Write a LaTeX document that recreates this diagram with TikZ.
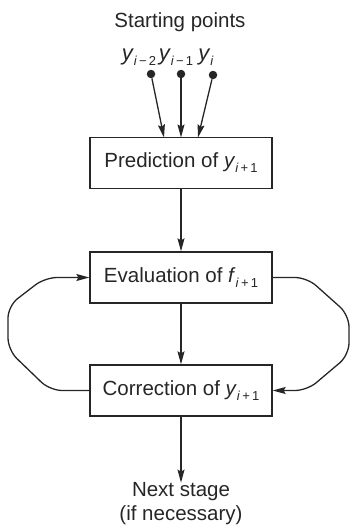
\documentclass[tikz,border=0pt]{standalone}
\usepackage{fontspec}
\setmainfont{Liberation Sans}
\usetikzlibrary{arrows.meta}
\newcommand\sbs[1]{\raisebox{-0.45ex}{\fontsize{13}{13}\selectfont #1}}
\begin{document}
\begin{tikzpicture}[x=1pt,y=-1pt,
  every node/.style={font=\fontsize{20.5}{24}\selectfont, text=black!85},
  box/.style={draw=black!85, line width=1.3pt, minimum width=182pt, minimum height=51pt, inner sep=0pt},
  arr/.style={draw=black!85, line width=1.3pt, -{Stealth[length=13pt,width=7pt,inset=2pt]}},
  dot/.style={circle, fill=black!85, inner sep=0pt, minimum size=8.5pt}]
\useasboundingbox (0,0) rectangle (351,527);
\node (start) at (180,22) {Starting points};
\node (l1) at (139,57) {{\fontsize{22}{24}\selectfont\textit{y}}\sbs{\textit{i}\,−\,2}};
\node (l2) at (176,57) {{\fontsize{22}{24}\selectfont\textit{y}}\sbs{\textit{i}\,−\,1}};
\node (l3) at (206,57) {{\fontsize{22}{24}\selectfont\textit{y}}\sbs{\textit{i}}};
\node[dot] (d1) at (151,74) {};
\node[dot] (d2) at (181,74) {};
\node[dot] (d3) at (213,75) {};
\node[box] (pred) at (181,163) {Prediction of \textit{y}\sbs{\textit{i}\,+\,1}};
\node[box] (eval) at (181,277.5) {Evaluation of \textit{f}\sbs{\textit{i}\,+\,1}};
\node[box] (corr) at (181,390.5) {Correction of \textit{y}\sbs{\textit{i}\,+\,1}};
\node[align=center, inner sep=0pt] (next) at (181,504) {Next stage\\(if necessary)};
\coordinate (a1) at (164,137.5);
\coordinate (a2) at (181,137.5);
\coordinate (a3) at (198,137.5);
\draw[arr] (d1) -- (a1);
\draw[arr] (d2) -- (a2);
\draw[arr] (d3) -- (a3);
\draw[arr] (pred) -- (eval);
\draw[arr] (eval) -- (corr);
\draw[arr] (corr.south) -- (next.north);
\draw[arr, rounded corners=12pt] (corr.west) -- (50,390.5) -- (8,350) -- (8,306) -- (45,277.5) -- (eval.west);
\draw[arr, rounded corners=12pt] (eval.east) -- (307,277.5) -- (349,315) -- (349,355) -- (307,390.5) -- (corr.east);
\end{tikzpicture}
\end{document}
